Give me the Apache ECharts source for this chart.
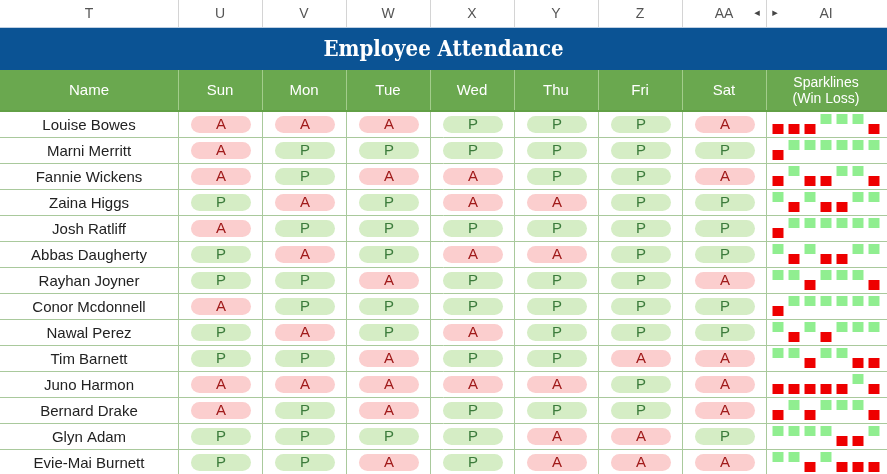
<!DOCTYPE html>
<html><head><meta charset="utf-8">
<script src="https://cdn.jsdelivr.net/npm/echarts@6/dist/echarts.min.js"></script>
<style>html,body{margin:0;padding:0;background:#fff}#c{width:887px;height:474px}</style>
</head><body><div id="c"></div><script>
const names = ['Louise Bowes','Marni Merritt','Fannie Wickens','Zaina Higgs','Josh Ratliff','Abbas Daugherty','Rayhan Joyner','Conor Mcdonnell','Nawal Perez','Tim Barnett','Juno Harmon','Bernard Drake','Glyn Adam','Evie-Mai Burnett'];
const days = ['Sun','Mon','Tue','Wed','Thu','Fri','Sat'];
const columnLetters = ['U','V','W','X','Y','Z','AA'];
const attendance = ['AAAPPPA','APPPPPP','APAAPPA','PAPAAPP','APPPPPP','PAPAAPP','PPAPPPA','APPPPPP','PAPAPPP','PPAPPAA','AAAAAPA','APAPPPA','PPPPAAP','PPAPAAA'];
const titleText = 'Employee Attendance';

const cells = [];
attendance.forEach((row, r) => row.split('').forEach((code, d) => cells.push([d, r, code === 'P' ? 1 : -1])));

const FONT = '"Liberation Sans", Arial, sans-serif';
const bodyLine = '#A9C99C';
const G = {outerBoundsMode: 'none', containLabel: false};
const chart = echarts.init(document.getElementById('c'));
chart.setOption({
  animation: false,
  title: {text: titleText, left: 'center', top: 39, padding: 0,
    textStyle: {color: '#fff', fontSize: 22, fontWeight: 'bold', fontFamily: '"DejaVu Serif Condensed", "DejaVu Serif", serif'}},
  graphic: [
    {type: 'rect', z: -10, shape: {x: 0, y: 28, width: 887, height: 42}, style: {fill: '#0B5394'}},
    {type: 'rect', z: -10, shape: {x: 0, y: 70, width: 887, height: 41}, style: {fill: '#6AA84F'}},
    {type: 'rect', z: -10, shape: {x: 0, y: 27, width: 887, height: 1}, style: {fill: '#BFD0E3'}},
    {type: 'rect', z: 5, shape: {x: 0, y: 110, width: 887, height: 2}, style: {fill: '#62A046'}},
    {type: 'text', style: {text: 'T', x: 89, y: 14, align: 'center', verticalAlign: 'middle', fill: '#555', font: '14px ' + FONT}},
    {type: 'text', style: {text: 'AI', x: 826, y: 14, align: 'center', verticalAlign: 'middle', fill: '#555', font: '14px ' + FONT}},
    {type: 'text', style: {text: '\u25C2', x: 757, y: 13, align: 'center', verticalAlign: 'middle', fill: '#444', font: '11px "DejaVu Sans"'}},
    {type: 'text', style: {text: '\u25B8', x: 775, y: 13, align: 'center', verticalAlign: 'middle', fill: '#444', font: '11px "DejaVu Sans"'}},
    {type: 'text', style: {text: 'Name', x: 89, y: 91, align: 'center', verticalAlign: 'middle', fill: '#fff', font: '15px ' + FONT}},
    {type: 'text', style: {text: 'Sparklines\n(Win Loss)', x: 826, y: 91, align: 'center', verticalAlign: 'middle', fill: '#fff', font: '14px ' + FONT, lineHeight: 16}}
  ],
  grid: [
    Object.assign({left: 0, top: 111, width: 887, height: 364}, G),
    Object.assign({left: 178, top: 111, width: 588, height: 364}, G),
    Object.assign({left: 770, top: 111, width: 112, height: 364}, G),
    Object.assign({left: 178, top: 70, width: 588, height: 41}, G),
    Object.assign({left: 178, top: 0, width: 588, height: 27}, G),
    Object.assign({left: 178, top: 113, width: 588, height: 364}, G)
  ],
  xAxis: [
    {gridIndex: 0, type: 'value', show: false, min: 0, max: 1},
    {gridIndex: 1, type: 'category', data: days, axisLabel: {show: false}, axisTick: {show: false}, axisLine: {show: false},
      splitLine: {show: true, lineStyle: {color: bodyLine, width: 1}}},
    {gridIndex: 2, type: 'category', data: days, show: false},
    {gridIndex: 3, type: 'category', data: days, position: 'top', axisTick: {show: false}, axisLine: {show: false},
      axisLabel: {color: '#fff', fontSize: 15, fontFamily: FONT, margin: -21, verticalAlign: 'middle'},
      splitLine: {show: true, lineStyle: {color: '#A3CD8C'}}},
    {gridIndex: 4, type: 'category', data: columnLetters, position: 'top', axisTick: {show: false}, axisLine: {show: false},
      axisLabel: {color: '#555', fontSize: 14, fontFamily: FONT, margin: -14, verticalAlign: 'middle'},
      splitLine: {show: true, lineStyle: {color: '#D4D4D4'}}},
    {gridIndex: 5, type: 'category', data: days, show: false}
  ],
  yAxis: [
    {gridIndex: 0, type: 'category', data: names, inverse: true, axisLabel: {show: false}, axisTick: {show: false}, axisLine: {show: false},
      splitLine: {show: true, lineStyle: {color: bodyLine, width: 1}}},
    {gridIndex: 1, type: 'category', data: names, inverse: true, show: false},
    {gridIndex: 2, type: 'category', data: names, inverse: true, show: false},
    {gridIndex: 3, type: 'value', show: false},
    {gridIndex: 4, type: 'value', show: false},
    {gridIndex: 5, type: 'category', data: names, inverse: true, axisTick: {show: false}, axisLine: {show: false}, splitLine: {show: false},
      axisLabel: {margin: 89, align: 'center', verticalAlign: 'middle', fontSize: 15, color: '#222', fontFamily: FONT}}
  ],
  series: [
    {type: 'custom', xAxisIndex: 1, yAxisIndex: 1, data: cells, z: 3,
      renderItem: function (params, api) {
        const p = api.coord([api.value(0), api.value(1)]);
        const v = api.value(2);
        return {type: 'group', children: [
          {type: 'rect', shape: {x: p[0] - 29, y: p[1] - 8, width: 60, height: 17, r: 8.5},
            style: {fill: v > 0 ? '#D5EDC5' : '#FBCECE'}},
          {type: 'text', style: {text: v > 0 ? 'P' : 'A', x: p[0] + 1, y: p[1] + 1, align: 'center', verticalAlign: 'middle',
            fill: v > 0 ? '#3B7B3B' : '#A01A1A', font: '15px ' + FONT}}
        ]};
      }},
    {type: 'custom', xAxisIndex: 2, yAxisIndex: 2, data: cells, z: 3,
      renderItem: function (params, api) {
        const p = api.coord([api.value(0), api.value(1)]);
        const v = api.value(2);
        return {type: 'rect', shape: {x: p[0] - 5.5, y: v > 0 ? p[1] - 10 : p[1], width: 11, height: 10},
          style: {fill: v > 0 ? '#90EE90' : '#EE0000'}};
      }}
  ]
});
</script></body></html>
